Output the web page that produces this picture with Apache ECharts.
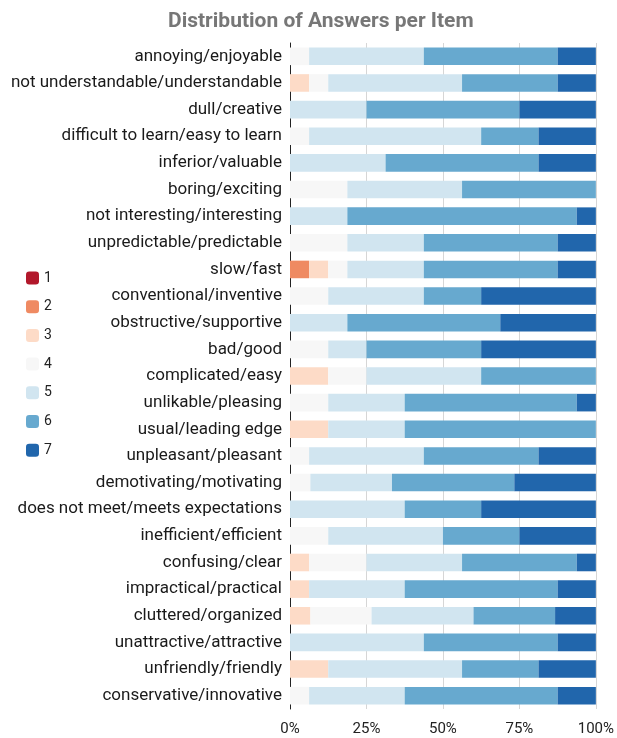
<!DOCTYPE html>
<html>
<head>
<meta charset="utf-8">
<script src="https://cdn.jsdelivr.net/npm/echarts@6/dist/echarts.min.js"></script>
<style>
html,body{margin:0;padding:0;background:#fff;}
#chart{width:617px;height:738px;}
</style>
</head>
<body>
<div id="chart"></div>
<script>
const items = [
  "annoying/enjoyable",
  "not understandable/understandable",
  "dull/creative",
  "difficult to learn/easy to learn",
  "inferior/valuable",
  "boring/exciting",
  "not interesting/interesting",
  "unpredictable/predictable",
  "slow/fast",
  "conventional/inventive",
  "obstructive/supportive",
  "bad/good",
  "complicated/easy",
  "unlikable/pleasing",
  "usual/leading edge",
  "unpleasant/pleasant",
  "demotivating/motivating",
  "does not meet/meets expectations",
  "inefficient/efficient",
  "confusing/clear",
  "impractical/practical",
  "cluttered/organized",
  "unattractive/attractive",
  "unfriendly/friendly",
  "conservative/innovative"
];
const answerLevels = ["1","2","3","4","5","6","7"];
const xTicks = [0, 25, 50, 75, 100];

// percentage of answers per level (one array per answer level, one value per item)
const ans1 = [0,0,0,0,0,0,0,0,0,0,0,0,0,0,0,0,0,0,0,0,0,0,0,0,0];
const ans2 = [0,0,0,0,0,0,0,0,6.25,0,0,0,0,0,0,0,0,0,0,0,0,0,0,0,0];
const ans3 = [0,6.25,0,0,0,0,0,0,6.25,0,0,0,12.5,0,12.5,0,0,0,0,6.25,6.25,6.67,0,12.5,0];
const ans4 = [6.25,6.25,0,6.25,0,18.75,0,18.75,6.25,12.5,0,12.5,12.5,12.5,0,6.25,6.67,0,12.5,18.75,0,20,0,0,6.25];
const ans5 = [37.5,43.75,25,56.25,31.25,37.5,18.75,25,25,31.25,18.75,12.5,37.5,25,25,37.5,26.67,37.5,37.5,31.25,31.25,33.33,43.75,43.75,31.25];
const ans6 = [43.75,31.25,50,18.75,50,43.75,75,43.75,43.75,18.75,50,37.5,37.5,56.25,62.5,37.5,40,25,25,37.5,50,26.67,43.75,25,50];
const ans7 = [12.5,12.5,25,18.75,18.75,0,6.25,12.5,12.5,37.5,31.25,37.5,0,6.25,0,18.75,26.67,37.5,25,6.25,12.5,13.33,12.5,18.75,12.5];

const seriesValues = [ans1, ans2, ans3, ans4, ans5, ans6, ans7];
const colors = ["#b2182b","#ef8a62","#fddbc7","#f7f7f7","#d1e5f0","#67a9cf","#2166ac"];

const chart = echarts.init(document.getElementById('chart'), null, {renderer: 'canvas'});
const font = 'Roboto, "Noto Sans", sans-serif';

chart.setOption({
  animation: false,
  textStyle: {fontFamily: font},
  color: colors,
  title: {
    text: 'Distribution of Answers per Item',
    left: 163,
    top: 6,
    textStyle: {fontSize: 21, fontWeight: 'bold', color: '#777', fontFamily: font}
  },
  legend: {
    orient: 'vertical',
    left: 21,
    top: 266,
    itemWidth: 13,
    itemHeight: 13,
    itemGap: 14.7,
    icon: 'roundRect',
    textStyle: {fontSize: 14, color: '#222', fontFamily: font},
    data: answerLevels
  },
  grid: {left: 290, right: 17, top: 43, bottom: 29, containLabel: false},
  xAxis: {
    type: 'value',
    min: xTicks[0],
    max: xTicks[xTicks.length - 1],
    interval: 25,
    axisLine: {show: false},
    axisTick: {show: false},
    splitLine: {show: true, lineStyle: {color: '#d6d6d6', width: 1}},
    axisLabel: {formatter: '{value}%', fontSize: 15, color: '#222', margin: 13, fontFamily: font}
  },
  yAxis: {
    type: 'category',
    inverse: true,
    data: items,
    axisLine: {show: true, lineStyle: {color: '#222', width: 1}},
    axisTick: {show: false},
    axisLabel: {fontSize: 17, color: '#1a1a1a', margin: 8, fontFamily: font}
  },
  series: answerLevels.map((name, i) => ({
    name: name,
    type: 'bar',
    stack: 'total',
    barWidth: '66%',
    data: seriesValues[i],
    itemStyle: {color: colors[i]}
  }))
});
</script>
</body>
</html>
